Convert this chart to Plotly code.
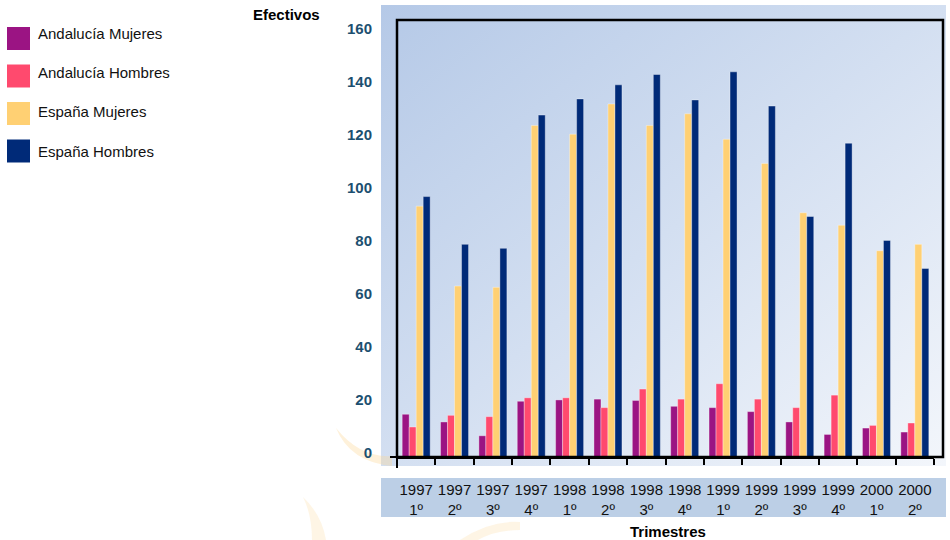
import base64
import plotly.graph_objects as go

# ---- data ----
trimestres = ["1997<br>1º", "1997<br>2º", "1997<br>3º", "1997<br>4º",
              "1998<br>1º", "1998<br>2º", "1998<br>3º", "1998<br>4º",
              "1999<br>1º", "1999<br>2º", "1999<br>3º", "1999<br>4º",
              "2000<br>1º", "2000<br>2º"]
andalucia_mujeres = [16.1, 13.2, 8.0, 21.0, 21.5, 21.8, 21.3, 19.1, 18.6, 17.1, 13.2, 8.5, 10.9, 9.4]
andalucia_hombres = [11.3, 15.7, 15.2, 22.3, 22.3, 18.6, 25.6, 21.8, 27.6, 21.8, 18.6, 23.3, 11.9, 12.8]
espana_mujeres = [94.5, 64.4, 63.9, 124.9, 121.6, 133.0, 124.9, 129.3, 119.7, 110.6, 92.0, 87.3, 77.7, 80.1]
espana_hombres = [98.1, 80.1, 78.6, 128.8, 134.9, 140.2, 144.1, 134.5, 145.1, 132.2, 90.6, 118.2, 81.6, 71.0]
y_ticks = [0, 20, 40, 60, 80, 100, 120, 140, 160]

series = [
    ("Andalucía Mujeres", andalucia_mujeres, "#9b1483"),
    ("Andalucía Hombres", andalucia_hombres, "#ff4a6e"),
    ("España Mujeres", espana_mujeres, "#ffd073"),
    ("España Hombres", espana_hombres, "#002a78"),
]

W, H = 950, 540
L, R, T, B = 397, 934, 19, 457  # plot area in pixels


def px(x):
    return (x - L) / (R - L)


def py(y):
    return (B - y) / (B - T)


fig = go.Figure()
for name, vals, col in series:
    fig.add_trace(go.Bar(
        x=trimestres, y=vals, name=name,
        marker=dict(color=col, line=dict(color="rgba(255,255,255,0.35)", width=1)),
        showlegend=False,
    ))

# gradient background panel via inline svg
svg = ('<svg xmlns="http://www.w3.org/2000/svg" width="565" height="461" viewBox="0 0 565 461" '
       'preserveAspectRatio="none"><defs><linearGradient id="g" x1="0" y1="0" x2="1" y2="1">'
       '<stop offset="0" stop-color="#b5c9e7"/><stop offset="0.5" stop-color="#d3dff1"/>'
       '<stop offset="1" stop-color="#f3f6fb"/></linearGradient></defs>'
       '<rect width="565" height="461" fill="url(#g)"/></svg>')
src = "data:image/svg+xml;base64," + base64.b64encode(svg.encode()).decode()
fig.add_layout_image(dict(source=src, xref="paper", yref="paper",
                          x=px(381), y=py(5), sizex=px(946) - px(381), sizey=py(5) - py(466),
                          xanchor="left", yanchor="top", sizing="stretch", layer="below"))

shapes = []


def ppath(pts):
    out = []
    for cmd, coords in pts:
        if coords:
            out.append(cmd + " " + " ".join(f"{px(a):.5f},{py(b):.5f}" for a, b in coords))
        else:
            out.append(cmd)
    return " ".join(out)


# faint watermark crescents
shapes.append(dict(type="path", xref="paper", yref="paper", layer="below",
                   path=ppath([("M", [(336, 428)]), ("Q", [(350, 462), (392, 466)]),
                               ("L", [(392, 456)]), ("Q", [(360, 458), (336, 428)]), ("Z", [])]),
                   fillcolor="rgba(253,214,150,0.35)", line=dict(width=0)))
shapes.append(dict(type="path", xref="paper", yref="paper", layer="below",
                   path=ppath([("M", [(303, 497)]), ("Q", [(322, 515), (326, 540)]),
                               ("L", [(312, 540)]), ("Q", [(312, 515), (303, 497)]), ("Z", [])]),
                   fillcolor="rgba(253,214,150,0.25)", line=dict(width=0)))
shapes.append(dict(type="path", xref="paper", yref="paper", layer="below",
                   path=ppath([("M", [(460, 540)]), ("Q", [(490, 520), (520, 522)]),
                               ("L", [(520, 530)]), ("Q", [(495, 530), (478, 540)]), ("Z", [])]),
                   fillcolor="rgba(253,214,150,0.25)", line=dict(width=0)))

# x label band
shapes.append(dict(type="rect", xref="paper", yref="paper", x0=px(381), x1=px(946),
                   y0=py(478), y1=py(517), fillcolor="#bccfe6", line=dict(width=0), layer="below"))
# frame
shapes.append(dict(type="rect", xref="paper", yref="paper", x0=0, x1=px(943),
                   y0=0, y1=py(20), line=dict(color="black", width=2.5), layer="above"))
# axis extension at left
shapes.append(dict(type="line", xref="paper", yref="paper", x0=px(390), x1=0,
                   y0=0, y1=0, line=dict(color="black", width=2)))
shapes.append(dict(type="line", xref="paper", yref="paper", x0=0, x1=0,
                   y0=0, y1=py(468), line=dict(color="black", width=2)))

# legend (manual, large square swatches)
annotations = []
sq_tops = [27, 64.5, 102, 139.5]
txt_y = [33, 72.5, 112, 151.5]
for (name, vals, col), t, ty in zip(series, sq_tops, txt_y):
    shapes.append(dict(type="rect", xref="paper", yref="paper", x0=px(7), x1=px(30),
                       y0=py(t + 23), y1=py(t), fillcolor=col, line=dict(width=0)))
    annotations.append(dict(text=name, xref="paper", yref="paper", x=px(36), y=py(ty),
                            xanchor="left", yanchor="middle", showarrow=False,
                            font=dict(size=15, color="#111111", family="Liberation Sans, Arial")))

annotations.append(dict(text="<b>Efectivos</b>", xref="paper", yref="paper", x=px(286), y=py(14),
                        xanchor="center", yanchor="middle", showarrow=False,
                        font=dict(size=15, color="black", family="Liberation Sans, Arial")))
annotations.append(dict(text="<b>Trimestres</b>", xref="paper", yref="paper", x=px(668), y=py(531),
                        xanchor="center", yanchor="middle", showarrow=False,
                        font=dict(size=15, color="black", family="Liberation Sans, Arial")))

fig.update_layout(
    width=W, height=H,
    margin=dict(l=L, r=W - R, t=T, b=H - B, pad=0, autoexpand=False),
    paper_bgcolor="white", plot_bgcolor="rgba(0,0,0,0)",
    barmode="group", bargap=0.27, bargroupgap=0,
    shapes=shapes, annotations=annotations,
    font=dict(family="Liberation Sans, Arial", size=15, color="black"),
    xaxis=dict(type="category", tickson="boundaries", ticks="outside", ticklen=6,
               tickcolor="black", tickwidth=2, showline=True, linecolor="black", linewidth=2,
               showgrid=False, tickfont=dict(size=15, color="#111111"), tickangle=0,
               automargin=False, ticklabelstandoff=18, fixedrange=True),
    yaxis=dict(range=[0, 165], tickvals=y_ticks, showgrid=False, zeroline=False,
               showline=False, ticks="", ticklabelstandoff=24, ticklabelshift=-4, automargin=False,
               tickfont=dict(size=15, color="#1c4f70", weight="bold"), fixedrange=True),
)

fig.write_html("out.html", config={"displayModeBar": False, "staticPlot": True},
               post_script="document.body.style.margin='0';document.body.style.overflow='hidden';")
